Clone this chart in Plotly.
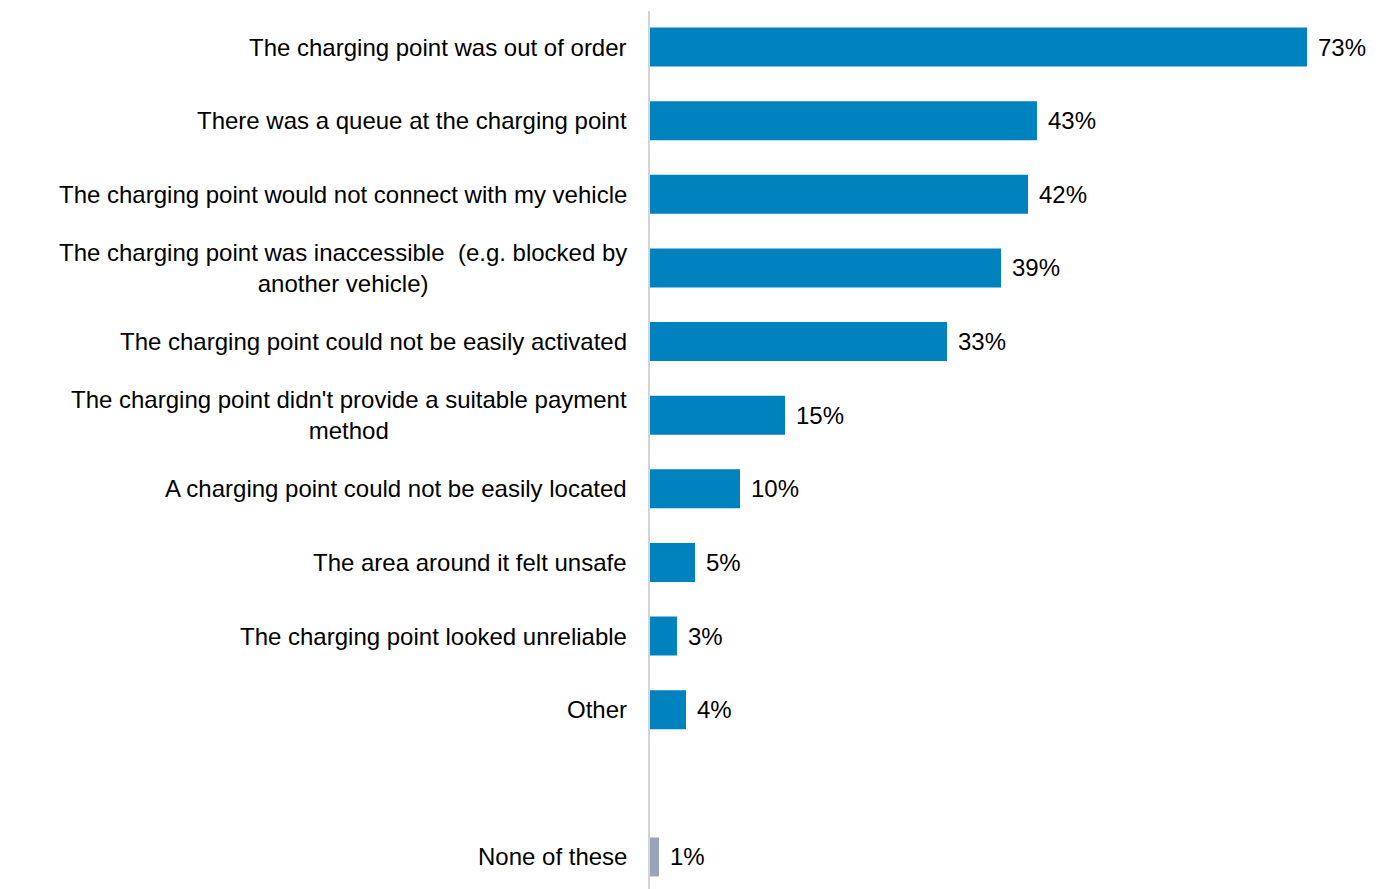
import plotly.graph_objects as go

# Reasons respondents could not charge at a public charging point (%)
reasons = [
    "The charging point was out of order",
    "There was a queue at the charging point",
    "The charging point would not connect with my vehicle",
    "The charging point was inaccessible  (e.g. blocked by<br>another vehicle)",
    "The charging point could not be easily activated",
    "The charging point didn't provide a suitable payment<br>method",
    "A charging point could not be easily located",
    "The area around it felt unsafe",
    "The charging point looked unreliable",
    "Other",
]
reason_pct = [73, 43, 42, 39, 33, 15, 10, 5, 3, 4]

none_label = "None of these"
none_pct = [1]

BLUE = "#0082BE"
GREY = "#98A4BA"
FONT = "Liberation Sans, Arial, sans-serif"
FONT_SIZE = 24

# Row positions: one slot per reason, a blank slot, then "None of these"
reason_pos = list(range(len(reasons)))
none_pos = [len(reasons) + 1]

fig = go.Figure()
fig.add_trace(go.Bar(
    x=reason_pct, y=reason_pos, orientation="h",
    marker=dict(color=BLUE, line=dict(width=0)), width=0.53,
    hoverinfo="skip",
))
fig.add_trace(go.Bar(
    x=none_pct, y=none_pos, orientation="h",
    marker=dict(color=GREY, line=dict(width=0)), width=0.53,
    hoverinfo="skip",
))

annotations = []
for label, pos in zip(reasons + [none_label], reason_pos + none_pos):
    annotations.append(dict(
        x=0, y=pos, xref="x", yref="y", text=label, showarrow=False,
        xanchor="right", yanchor="middle", align="center", xshift=-21,
        font=dict(family=FONT, size=FONT_SIZE, color="#000000"),
    ))
for val, pos in zip(reason_pct + none_pct, reason_pos + none_pos):
    annotations.append(dict(
        x=val, y=pos, xref="x", yref="y", text=f"{val}%", showarrow=False,
        xanchor="left", yanchor="middle", xshift=9,
        font=dict(family=FONT, size=FONT_SIZE, color="#000000"),
    ))

fig.update_layout(
    width=1388, height=889,
    margin=dict(l=650, r=9, t=11, b=0),
    paper_bgcolor="white", plot_bgcolor="white",
    showlegend=False, barmode="overlay",
    annotations=annotations,
    xaxis=dict(range=[0, 81], showgrid=False, zeroline=False,
               showticklabels=False, ticks="", fixedrange=True),
    yaxis=dict(range=[11.435, -0.489], showgrid=False, zeroline=False,
               showticklabels=False, ticks="", showline=True,
               linecolor="#D4D4D4", linewidth=2, fixedrange=True),
)

fig.write_html("out.html")
